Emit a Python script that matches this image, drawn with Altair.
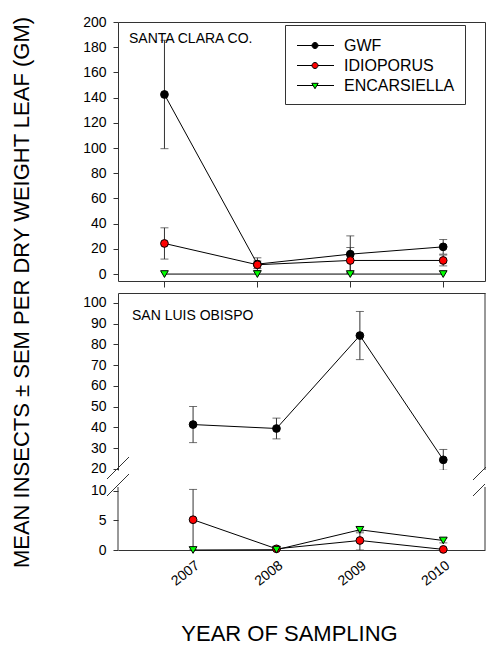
import altair as alt
import pandas as pd

# ---------------- data ----------------
years = [2007, 2008, 2009, 2010]
series_names = ["GWF", "IDIOPORUS", "ENCARSIELLA"]
series_colors = ["#000000", "#ff0000", "#00ff00"]
series_shapes = ["circle", "circle", "triangle-down"]

# Santa Clara Co.
sc_gwf = [142.5, 7.9, 15.8, 21.6]
sc_gwf_sem = [43.0, 5.0, 14.5, 5.8]
sc_idio = [24.3, 7.4, 10.8, 10.8]
sc_idio_sem = [12.4, 3.0, 10.3, 4.3]
sc_enc = [0.0, 0.0, 0.0, 0.0]
sc_enc_sem = [0.0, 0.0, 0.0, 0.0]

# San Luis Obispo
slo_gwf = [41.4, 39.5, 84.3, 24.4]
slo_gwf_sem = [8.7, 5.0, 11.6, 5.0]
slo_idio = [5.1, 0.2, 1.6, 0.1]
slo_idio_sem = [5.1, 0.1, 1.6, 0.1]
slo_enc = [0.0, 0.05, 3.4, 1.6]
slo_enc_sem = [0.0, 0.05, 0.5, 0.4]

top_yticks = [0, 20, 40, 60, 80, 100, 120, 140, 160, 180, 200]
upper_yticks = [20, 30, 40, 50, 60, 70, 80, 90, 100]
lower_yticks = [0, 5, 10]

panel_titles = ["SANTA CLARA CO.", "SAN LUIS OBISPO"]
x_title = "YEAR OF SAMPLING"
y_title = "MEAN INSECTS \u00b1 SEM PER DRY WEIGHT LEAF (GM)"


def make_rows(panel, names, means, sems):
    rows = []
    for name, m, s in zip(names, means, sems):
        for yr, v, e in zip(years, m, s):
            rows.append({"panel": panel, "series": name, "year": yr,
                         "mean": v, "sem": e, "lo": v - e, "hi": v + e})
    return rows


df_sc = pd.DataFrame(make_rows("SC", series_names,
                               [sc_gwf, sc_idio, sc_enc],
                               [sc_gwf_sem, sc_idio_sem, sc_enc_sem]))
df_up = pd.DataFrame(make_rows("SLO", ["GWF"], [slo_gwf], [slo_gwf_sem]))
df_lo = pd.DataFrame(make_rows("SLO", ["IDIOPORUS", "ENCARSIELLA"],
                               [slo_idio, slo_enc],
                               [slo_idio_sem, slo_enc_sem]))

# ---------------- styling ----------------
FONT = "Liberation Sans"
FRAME = "#333333"
W = 367
H_TOP = 259
H_UP = 177
H_LO = 68

deco = pd.DataFrame({"k": [0]})


def data_layers(data, names, xscale, xaxis, yscale, yaxis, clip=False):
    base = alt.Chart(data)
    x = alt.X("year:Q", scale=xscale, axis=xaxis)
    y = alt.Y("mean:Q", scale=yscale, axis=yaxis)
    ylo = alt.Y("lo:Q", scale=yscale, axis=yaxis)
    yhi = alt.Y("hi:Q", scale=yscale, axis=yaxis)
    errs = base.transform_filter("datum.sem > 0")
    rule = errs.mark_rule(color=FRAME, strokeWidth=1, clip=clip).encode(
        x=x, y=ylo, y2="hi:Q")
    cap_lo = errs.mark_tick(orient="horizontal", size=8, thickness=1,
                            color=FRAME, clip=clip).encode(x=x, y=ylo)
    cap_hi = errs.mark_tick(orient="horizontal", size=8, thickness=1,
                            color=FRAME, clip=clip).encode(x=x, y=yhi)
    line = base.mark_line(color="black", strokeWidth=1).encode(
        x=x, y=y, detail="series:N", order="year:Q")
    out = [rule, cap_lo, cap_hi, line]
    for name, col, shp in zip(series_names, series_colors, series_shapes):
        if name not in names:
            continue
        out.append(base.transform_filter(f"datum.series == '{name}'").mark_point(
            shape=shp, filled=True, fill=col, size=60, stroke="black",
            strokeWidth=1, opacity=1).encode(x=x, y=y))
    return out


def rule_line(x1, y1, x2, y2):
    return alt.Chart(deco).mark_rule(color=FRAME, strokeWidth=1).encode(
        x=alt.value(x1), y=alt.value(y1), x2=alt.value(x2), y2=alt.value(y2))


def panel_label(text, x, y):
    return alt.Chart(pd.DataFrame({"t": [text]})).mark_text(
        align="left", baseline="alphabetic", fontSize=14, font=FONT,
        color="black").encode(x=alt.value(x), y=alt.value(y), text="t:N")


# ---------------- legend (custom line+marker symbols) ----------------
circle_path = ("M-0.85,0L0.65,0M1.25,0L2.85,0"
               "M1.25,0C1.25,0.166 1.116,0.3 0.95,0.3C0.784,0.3 0.65,0.166 0.65,0"
               "C0.65,-0.166 0.784,-0.3 0.95,-0.3C1.116,-0.3 1.25,-0.166 1.25,0Z")
tri_path = "M-0.85,0L0.76,0M1.14,0L2.85,0M0.63,-0.22L1.27,-0.22L0.95,0.32Z"
legend_def = alt.Legend(
    title=None, orient="none", legendX=167, legendY=3, padding=10,
    rowPadding=1, strokeColor=FRAME, fillColor="white", symbolSize=400,
    symbolStrokeWidth=1, labelOffset=28,
    labelFont=FONT, labelFontSize=16, labelColor="black",
    labelExpr="datum.label + '  '")
legend_layer = alt.Chart(df_sc).transform_filter("false").mark_point(
    filled=True, stroke="black", strokeWidth=1, opacity=1).encode(
    fill=alt.Fill("series:N", scale=alt.Scale(domain=series_names, range=series_colors),
                  legend=legend_def),
    shape=alt.Shape("series:N", scale=alt.Scale(domain=series_names,
                    range=[circle_path, circle_path, tri_path]), legend=legend_def))

# ---------------- top panel: Santa Clara Co. ----------------
top_x_scale = alt.Scale(domain=[2006.5, 2010.45], nice=False, zero=False)
top_x_axis = alt.Axis(values=years, labels=False, domain=False, ticks=True,
                      tickSize=6, tickColor=FRAME, grid=False, title=None)
top_y_scale = alt.Scale(domain=[-5.5, 200], nice=False, zero=False)
top_y_axis = alt.Axis(values=top_yticks, domain=False, tickSize=5, tickColor=FRAME,
                      labelFontSize=14, labelPadding=7, grid=False,
                      title=y_title, titleX=-97, titleY=270, titleAngle=270,
                      titleAlign="center", titleBaseline="middle",
                      titleFontSize=22, titleFontWeight="normal")
top = alt.layer(
    *data_layers(df_sc, series_names, top_x_scale, top_x_axis, top_y_scale, top_y_axis),
    legend_layer,
    panel_label(panel_titles[0], 11, 21),
).properties(width=W, height=H_TOP,
             view=alt.ViewBackground(stroke=FRAME, strokeWidth=1))

# ---------------- bottom panel, upper segment (20-100) ----------------
bot_x_scale = alt.Scale(domain=[2006.1, 2010.5], nice=False, zero=False)
up_x_axis = alt.Axis(orient="top", labels=False, ticks=False, domain=True,
                     domainColor=FRAME, grid=False, title=None)
up_y_scale = alt.Scale(domain=[19.5, 104.8], nice=False, zero=False)
up_y_axis = alt.Axis(values=upper_yticks, domain=True, domainColor=FRAME,
                     tickSize=5, tickColor=FRAME, labelFontSize=14,
                     labelPadding=7, grid=False, title=None)
upper = alt.layer(
    *data_layers(df_up, ["GWF"], bot_x_scale, up_x_axis, up_y_scale, up_y_axis, clip=True),
    rule_line(W, 0, W, H_UP),
    rule_line(-11, 186, 11, 164),
    rule_line(W - 12, 187, W + 1, 174),
    panel_label(panel_titles[1], 14, 27),
).properties(width=W, height=H_UP)

# ---------------- bottom panel, lower segment (0-10) ----------------
lo_x_axis = alt.Axis(values=years, format="d", orient="bottom", domain=True,
                     domainColor=FRAME, ticks=False, tickSize=0, grid=False,
                     labelAngle=322, labelAlign="right", labelBaseline="top",
                     labelPadding=8, labelFontSize=14, labelFlush=False,
                     labelOverlap=False,
                     title=x_title, titleX=171, titleY=90, titleAngle=0,
                     titleAlign="center", titleBaseline="alphabetic",
                     titleFontSize=22, titleFontWeight="normal")
lo_y_scale = alt.Scale(domain=[0, 11.45], nice=False, zero=False)
lo_y_axis = alt.Axis(values=lower_yticks, domain=False, tickSize=5,
                     tickColor=FRAME, labelFontSize=14, labelPadding=7,
                     grid=False, title=None)
lower = alt.layer(
    *data_layers(df_lo, ["IDIOPORUS", "ENCARSIELLA"], bot_x_scale, lo_x_axis,
                 lo_y_scale, lo_y_axis),
    rule_line(0, 5, 0, H_LO),
    rule_line(W, 5, W, H_LO),
    rule_line(-11, 14, 11, -8),
    rule_line(W - 12, 14, W, 2),
).properties(width=W, height=H_LO)

chart = alt.vconcat(top, upper, lower, spacing=12, bounds="flush").properties(
    padding={"left": 9, "top": 14, "right": 0, "bottom": 0}
).configure_view(strokeWidth=0).configure_axis(
    labelFont=FONT, titleFont=FONT, labelColor="black", titleColor="black"
).configure_text(font=FONT)

chart.save("out.html", embed_options={"renderer": "svg", "actions": False})
